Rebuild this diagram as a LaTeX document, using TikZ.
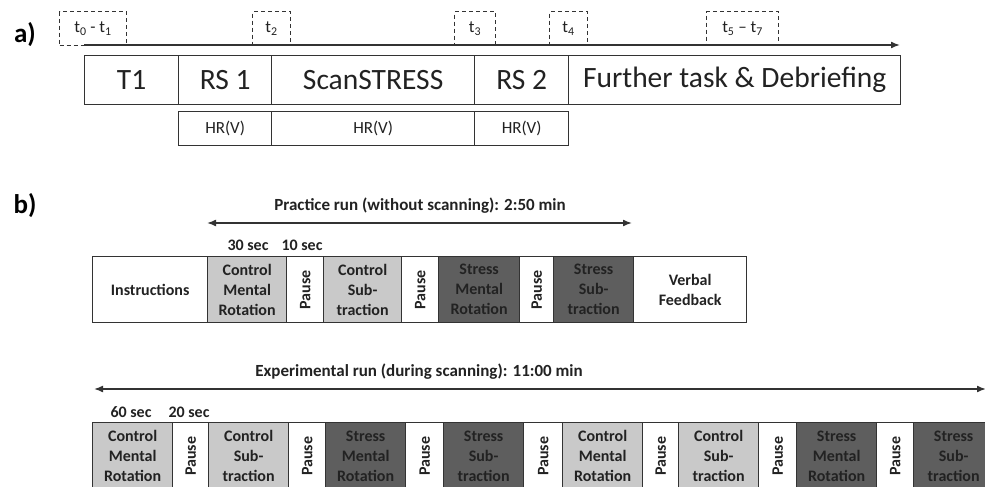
\documentclass[tikz,border=0pt]{standalone}
\usepackage{fontspec}
\setmainfont{Carlito}
\usetikzlibrary{arrows.meta}
\definecolor{lightfill}{HTML}{C9C9C9}
\definecolor{darkfill}{HTML}{5E5E5E}
\definecolor{ink}{HTML}{222222}
\definecolor{edge}{HTML}{333333}
\tikzset{
  bx/.style={draw=edge, line width=1.3pt, inner sep=0pt, anchor=north west, text=ink, align=center},
  bigtxt/.style={font=\fontsize{29.5}{33}\selectfont},
  hrtxt/.style={font=\fontsize{17}{20}\selectfont},
  tlab/.style={draw=edge, line width=1.1pt, dash pattern=on 4pt off 3pt, inner sep=0pt, anchor=north west, text=ink, font=\fontsize{17}{20}\selectfont},
  btxt/.style={font=\bfseries\fontsize{16}{20}\selectfont},
  ctrl/.style={bx, btxt, fill=lightfill},
  strs/.style={bx, btxt, fill=darkfill, text=ink},
  wht/.style={bx, btxt, fill=white},
  pausebox/.style={bx, fill=white},
  arr/.style={draw=edge, line width=1.6pt, -{Latex[length=9pt,width=7pt]}},
  darr/.style={draw=edge, line width=1.6pt, {Latex[length=9pt,width=7pt]}-{Latex[length=9pt,width=7pt]}},
  head/.style={text=ink, font=\bfseries\fontsize{17}{20}\selectfont},
  part/.style={text=black, font=\bfseries\fontsize{27}{30}\selectfont},
}
\newcommand{\pausetxt}{\rotatebox{90}{\bfseries\fontsize{16}{20}\selectfont Pause}}
\begin{document}
\begin{tikzpicture}[x=1pt,y=-1pt]
\useasboundingbox (0,0) rectangle (985,487);
\clip (0,0) rectangle (985,487);
\fill[white] (0,0) rectangle (985,487);

% ---------- a) ----------
\node[part] (la) at (25,35) {a)};
\coordinate (axs) at (84,45);
\coordinate (axe) at (900,45);
\draw[arr] (axs) -- (axe);
\node[tlab, minimum width=67pt, minimum height=34pt] (t01) at (59,11) {t\textsubscript{0} - t\textsubscript{1}};
\node[tlab, minimum width=38pt, minimum height=34pt] (t2) at (252,11) {t\textsubscript{2}};
\node[tlab, minimum width=41pt, minimum height=34pt] (t3) at (454,11) {t\textsubscript{3}};
\node[tlab, minimum width=38pt, minimum height=34pt] (t4) at (549,11) {t\textsubscript{4}};
\node[tlab, minimum width=72pt, minimum height=34pt] (t57) at (706,11) {t\textsubscript{5} -- t\textsubscript{7}};

\node[bx, bigtxt, minimum width=94pt, minimum height=49pt] (T1) at (84,55) {T1};
\node[bx, bigtxt, minimum width=93pt, minimum height=49pt] (RS1) at (178,55) {RS 1};
\node[bx, bigtxt, minimum width=203pt, minimum height=49pt] (SS) at (271,55) {ScanSTRESS};
\node[bx, bigtxt, minimum width=94pt, minimum height=49pt] (RS2) at (474,55) {RS 2};
\node[bx, bigtxt, minimum width=332pt, minimum height=49pt] (FT) at (568,55) {Further task \& Debriefing};

\node[bx, hrtxt, minimum width=93pt, minimum height=34pt] (hr1) at (178,111) {HR(V)};
\node[bx, hrtxt, minimum width=203pt, minimum height=34pt] (hr2) at (271,111) {HR(V)};
\node[bx, hrtxt, minimum width=94pt, minimum height=34pt] (hr3) at (474,111) {HR(V)};

% ---------- b) practice ----------
\node[part] (lb) at (25,206) {b)};
\node[wht, minimum width=115pt, minimum height=66pt] (instr) at (92,256) {Instructions};
\node[ctrl, minimum width=79pt, minimum height=66pt] (pcmr) at (207,256) {Control\\Mental\\Rotation};
\node[pausebox, minimum width=37pt, minimum height=66pt] (pp1) at (286,256) {\pausetxt};
\node[ctrl, minimum width=78pt, minimum height=66pt] (pcs) at (323,256) {Control\\Sub-\\traction};
\node[pausebox, minimum width=37pt, minimum height=66pt] (pp2) at (401,256) {\pausetxt};
\node[strs, minimum width=81pt, minimum height=66pt] (psmr) at (438,256) {Stress\\Mental\\Rotation};
\node[pausebox, minimum width=34pt, minimum height=66pt] (pp3) at (519,256) {\pausetxt};
\node[strs, minimum width=80pt, minimum height=66pt] (pss) at (553,256) {Stress\\Sub-\\traction};
\node[wht, minimum width=113pt, minimum height=66pt] (verb) at (633,256) {Verbal\\Feedback};

\coordinate (pas) at (207,223);
\coordinate (pae) at (632,223);
\draw[darr] (pas) -- (pae);
\node[head] (phead) at (420,206) {Practice run (without scanning): 2:50 min};
\node[head, font=\bfseries\fontsize{16}{20}\selectfont] (s30) at (248,245) {30 sec};
\node[head, font=\bfseries\fontsize{16}{20}\selectfont] (s10) at (302,245) {10 sec};

% ---------- b) experimental ----------
\coordinate (eas) at (94,389);
\coordinate (eae) at (986,389);
\draw[darr] (eas) -- (eae);
\node[head] (ehead) at (419,372) {Experimental run (during scanning): 11:00 min};
\node[head, font=\bfseries\fontsize{16}{20}\selectfont] (s60) at (131,412) {60 sec};
\node[head, font=\bfseries\fontsize{16}{20}\selectfont] (s20) at (189,412) {20 sec};

\node[ctrl, minimum width=80pt, minimum height=67pt] (e1) at (92,422) {Control\\Mental\\Rotation};
\node[pausebox, minimum width=36pt, minimum height=67pt] (e2) at (172,422) {\pausetxt};
\node[ctrl, minimum width=80pt, minimum height=67pt] (e3) at (208,422) {Control\\Sub-\\traction};
\node[pausebox, minimum width=37pt, minimum height=67pt] (e4) at (288,422) {\pausetxt};
\node[strs, minimum width=80pt, minimum height=67pt] (e5) at (325,422) {Stress\\Mental\\Rotation};
\node[pausebox, minimum width=38pt, minimum height=67pt] (e6) at (405,422) {\pausetxt};
\node[strs, minimum width=80pt, minimum height=67pt] (e7) at (443,422) {Stress\\Sub-\\traction};
\node[pausebox, minimum width=39pt, minimum height=67pt] (e8) at (523,422) {\pausetxt};
\node[ctrl, minimum width=80pt, minimum height=67pt] (e9) at (562,422) {Control\\Mental\\Rotation};
\node[pausebox, minimum width=36pt, minimum height=67pt] (e10) at (642,422) {\pausetxt};
\node[ctrl, minimum width=80pt, minimum height=67pt] (e11) at (678,422) {Control\\Sub-\\traction};
\node[pausebox, minimum width=38pt, minimum height=67pt] (e12) at (758,422) {\pausetxt};
\node[strs, minimum width=80pt, minimum height=67pt] (e13) at (796,422) {Stress\\Mental\\Rotation};
\node[pausebox, minimum width=37pt, minimum height=67pt] (e14) at (876,422) {\pausetxt};
\node[strs, minimum width=80pt, minimum height=67pt] (e15) at (913,422) {Stress\\Sub-\\traction};
\end{tikzpicture}
\end{document}
